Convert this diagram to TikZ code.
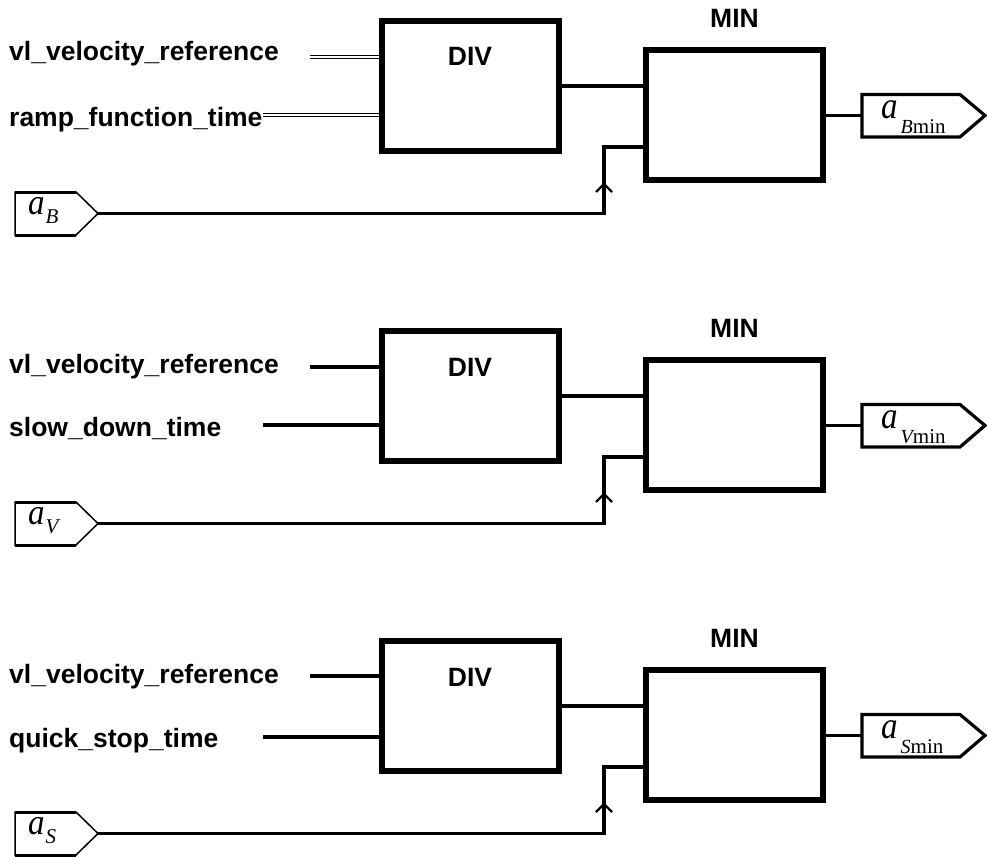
\documentclass[tikz,border=0pt]{standalone}
\usepackage{fontspec}
\usepackage{graphicx}
\newfontfamily\lsans{Liberation Sans}
\newfontfamily\lserif{Liberation Serif}
\tikzset{
  blk/.style={draw, line width=6pt, minimum width=177pt, minimum height=130pt, inner sep=0pt},
  conn/.style={line width=3.6pt},
  dbl/.style={double, line width=1.2pt, double distance=1.6pt},
  lab/.style={font=\lsans\bfseries\fontsize{26.5}{30}\selectfont, inner sep=0pt},
  inbox/.style={line width=1.5pt, line join=miter},
  inedge/.style={line width=3pt},
  outbox/.style={line width=3.2pt, line join=miter},
  chev/.style={line width=2.2pt},
  mathlab/.style={font=\lserif\itshape, inner sep=0pt, anchor=base west}
}
\newcommand\inlab[1]{\scalebox{1}[1.1]{\fontsize{33}{33}\selectfont a}\kern0.8pt\raisebox{-8.5pt}{\fontsize{21}{21}\selectfont #1}}
\newcommand\outlab[1]{\scalebox{1}[1.15]{\fontsize{33}{33}\selectfont a}\kern3pt\raisebox{-15pt}{\fontsize{20}{20}\selectfont #1\upshape\fontsize{21}{21}\selectfont min}}
\begin{document}
\begin{tikzpicture}[x=1pt,y=-1pt]
\useasboundingbox (0,0) rectangle (987,856);

% ---------------- group A ----------------
\node[blk] (divA) at (470,86) {};
\node[blk] (minA) at (734.5,115.4) {};
\node[lab, anchor=base] (divtA) at (470,66) {DIV};
\node[lab, anchor=base] (mintA) at (734.5,27.3) {MIN};
\node[lab, anchor=base west] (in1A) at (9,61) {vl\_velocity\_reference};
\node[lab, anchor=base west] (in2A) at (9,126) {ramp\_function\_time};
\coordinate (s1A) at (310,57);
\coordinate (s2A) at (263,115);
\draw[dbl] (s1A) -- (s1A -| divA.west);
\draw[dbl] (s2A) -- (s2A -| divA.west);
\draw[conn] (divA.east) -- (divA.east -| minA.west);
\draw[inbox] (15,192) -- (76,192) -- (98,213.5) -- (76,235) -- (15,235) -- cycle;
\draw[inedge] (15,192) -- (76,192) (15,235) -- (76,235);
\coordinate (pA) at (98,213.5);
\coordinate (kA) at (604,147);
\draw[conn] (pA) -| (kA) -- (kA -| minA.west);
\draw[chev, shift={(kA)}] (-8,45) -- (0,37) -- (8,45);
\coordinate (oA) at (862,115.4);
\draw[conn] (minA.east) -- (oA);
\draw[outbox] (862,94.5) -- (960,94.5) -- (985,115.5) -- (960,137) -- (862,137) -- cycle;
\node[mathlab] (laA) at (28,214.5) {\inlab{B}};
\node[mathlab] (loA) at (881,118) {\outlab{B}};

% ---------------- group B ----------------
\begin{scope}[yshift=-310pt]
\node[blk] (divB) at (470,86) {};
\node[blk] (minB) at (734.5,115.4) {};
\node[lab, anchor=base] (divtB) at (470,66) {DIV};
\node[lab, anchor=base] (mintB) at (734.5,27.3) {MIN};
\node[lab, anchor=base west] (in1B) at (9,63) {vl\_velocity\_reference};
\node[lab, anchor=base west] (in2B) at (9,126) {slow\_down\_time};
\coordinate (s1B) at (310,57);
\coordinate (s2B) at (263,115);
\draw[conn] (s1B) -- (s1B -| divB.west);
\draw[conn] (s2B) -- (s2B -| divB.west);
\draw[conn] (divB.east) -- (divB.east -| minB.west);
\draw[inbox] (15,192) -- (76,192) -- (98,213.5) -- (76,235) -- (15,235) -- cycle;
\draw[inedge] (15,192) -- (76,192) (15,235) -- (76,235);
\coordinate (pB) at (98,213.5);
\coordinate (kB) at (604,147);
\draw[conn] (pB) -| (kB) -- (kB -| minB.west);
\draw[chev, shift={(kB)}] (-8,45) -- (0,37) -- (8,45);
\coordinate (oB) at (862,115.4);
\draw[conn] (minB.east) -- (oB);
\draw[outbox] (862,94.5) -- (960,94.5) -- (985,115.5) -- (960,137) -- (862,137) -- cycle;
\node[mathlab] (laB) at (28,214.5) {\inlab{V}};
\node[mathlab] (loB) at (881,118) {\outlab{V}};
\end{scope}

% ---------------- group C ----------------
\begin{scope}[yshift=-620pt]
\node[blk] (divC) at (470,86) {};
\node[blk] (minC) at (734.5,115.4) {};
\node[lab, anchor=base] (divtC) at (470,66) {DIV};
\node[lab, anchor=base] (mintC) at (734.5,27.3) {MIN};
\node[lab, anchor=base west] (in1C) at (9,63) {vl\_velocity\_reference};
\node[lab, anchor=base west] (in2C) at (9,127) {quick\_stop\_time};
\coordinate (s1C) at (310,56);
\coordinate (s2C) at (263,117);
\draw[conn] (s1C) -- (s1C -| divC.west);
\draw[conn] (s2C) -- (s2C -| divC.west);
\draw[conn] (divC.east) -- (divC.east -| minC.west);
\draw[inbox] (15,192) -- (76,192) -- (98,213.5) -- (76,235) -- (15,235) -- cycle;
\draw[inedge] (15,192) -- (76,192) (15,235) -- (76,235);
\coordinate (pC) at (98,213.5);
\coordinate (kC) at (604,147);
\draw[conn] (pC) -| (kC) -- (kC -| minC.west);
\draw[chev, shift={(kC)}] (-8,45) -- (0,37) -- (8,45);
\coordinate (oC) at (862,115.4);
\draw[conn] (minC.east) -- (oC);
\draw[outbox] (862,94.5) -- (960,94.5) -- (985,115.5) -- (960,137) -- (862,137) -- cycle;
\node[mathlab] (laC) at (28,214.5) {\inlab{S}};
\node[mathlab] (loC) at (881,118) {\outlab{S}};
\end{scope}
\end{tikzpicture}
\end{document}
